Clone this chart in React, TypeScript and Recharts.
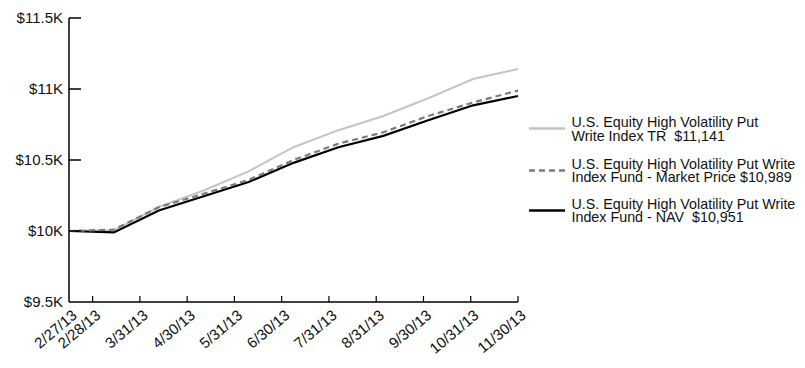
import React from 'react';
import { LineChart, Line, XAxis, YAxis, Legend } from 'recharts';

const DATES = ['2/27/13', '2/28/13', '3/31/13', '4/30/13', '5/31/13', '6/30/13', '7/31/13', '8/31/13', '9/30/13', '10/31/13', '11/30/13'];
const INDEX_TR = [10000, 10005, 10170, 10285, 10420, 10590, 10710, 10810, 10935, 11070, 11141];
const MARKET_PRICE = [10000, 10010, 10168, 10262, 10360, 10500, 10615, 10695, 10810, 10905, 10989];
const NAV = [10000, 9990, 10145, 10245, 10345, 10480, 10590, 10670, 10780, 10885, 10951];

const Y_TICKS = [9500, 10000, 10500, 11000, 11500];
const Y_TICK_LABELS = ['$9.5K', '$10K', '$10.5K', '$11K', '$11.5K'];
// month-end positions of the date labels (2/27 sits half a step before 2/28)
const X_TICKS = [0.5, 1, 2, 3, 4, 5, 6, 7, 8, 9, 10];
const X_TICK_LABELS = DATES;

const LEGEND_LINES = [
  ['U.S. Equity High Volatility Put', 'Write Index TR  $11,141'],
  ['U.S. Equity High Volatility Put Write', 'Index Fund - Market Price $10,989'],
  ['U.S. Equity High Volatility Put Write', 'Index Fund - NAV  $10,951'],
];

const data = DATES.map((d, i) => ({ date: d, index: INDEX_TR[i], market: MARKET_PRICE[i], nav: NAV[i] }));

const FONT = '"Liberation Sans", Arial, sans-serif';

const YTick = (props: any) => {
  const { x, y, payload } = props;
  const i = Y_TICKS.indexOf(payload.value);
  return (
    <g>
      {payload.value !== Y_TICKS[0] && (
        <line x1={x + 6} x2={x + 18} y1={y} y2={y} stroke="#000" strokeWidth={1.5} />
      )}
      <text x={x} y={y} dy={5.3} textAnchor="end" fontFamily={FONT} fontSize={15} fill="#111">
        {Y_TICK_LABELS[i]}
      </text>
    </g>
  );
};

const XTick = (props: any) => {
  const { x, y, payload } = props;
  const i = X_TICKS.indexOf(payload.value);
  const px = x + 9;
  const py = y + 15;
  return (
    <g>
      {i > 0 && <line x1={x} x2={x} y1={y} y2={y - 6} stroke="#000" strokeWidth={1.2} />}
      <text x={px} y={py} textAnchor="end" transform={`rotate(-40, ${px}, ${py})`} fontFamily={FONT} fontSize={15} fill="#111">
        {X_TICK_LABELS[i]}
      </text>
    </g>
  );
};

const LegendContent = () => {
  const tops = [116, 157.5, 197.5];
  const samples = [
    { stroke: '#c4c4c4', dash: undefined, width: 2.5 },
    { stroke: '#7a7a7a', dash: '6 4', width: 2.5 },
    { stroke: '#000', dash: undefined, width: 2.5 },
  ];
  return (
    <div style={{ position: 'relative', width: 805, height: 368 }}>
      {LEGEND_LINES.map((lines, k) => (
        <div key={k} style={{ position: 'absolute', left: 528, top: tops[k], display: 'flex', alignItems: 'flex-start' }}>
          <svg width={38} height={28} style={{ display: 'block' }}>
            <line x1={1} x2={37} y1={12.5} y2={12.5} stroke={samples[k].stroke} strokeWidth={samples[k].width} strokeDasharray={samples[k].dash} />
          </svg>
          <div style={{ marginLeft: 5.5, fontFamily: FONT, fontSize: 14.3, lineHeight: '13.7px', color: '#111', whiteSpace: 'pre' }}>
            {lines[0]}
            <br />
            {lines[1]}
          </div>
        </div>
      ))}
    </div>
  );
};

export default function App() {
  return (
    <div style={{ position: 'absolute', left: 0, top: 0, width: 805, height: 368, background: '#fff' }}>
      <LineChart width={805} height={368} data={data} margin={{ top: 18, right: 287, bottom: 6, left: 0 }}>
        <XAxis
          xAxisId="t"
          dataKey="noSuchKey"
          type="number"
          domain={[0.5, 10]}
          allowDataOverflow
          ticks={X_TICKS}
          interval={0}
          height={60}
          tickSize={0}
          tickMargin={0}
          tickLine={false}
          tick={<XTick />}
          axisLine={{ stroke: '#000', strokeWidth: 1.5 }}
        />
        <XAxis xAxisId="d" dataKey="date" type="category" hide height={0} />
        <YAxis
          type="number"
          domain={[9500, 11500]}
          ticks={Y_TICKS}
          interval={0}
          width={69}
          tickSize={0}
          tickMargin={6}
          tickLine={false}
          tick={<YTick />}
          axisLine={{ stroke: '#000', strokeWidth: 1.5 }}
        />
        <Line xAxisId="d" type="linear" dataKey="index" stroke="#c4c4c4" strokeWidth={2} dot={false} isAnimationActive={false} />
        <Line xAxisId="d" type="linear" dataKey="nav" stroke="#000" strokeWidth={2.2} dot={false} isAnimationActive={false} />
        <Line xAxisId="d" type="linear" dataKey="market" stroke="#7a7a7a" strokeWidth={2.2} strokeDasharray="6 4" dot={false} isAnimationActive={false} />
        <Legend
          layout="vertical"
          align="center"
          verticalAlign="middle"
          content={<LegendContent />}
          wrapperStyle={{ left: 0, top: 0, width: 805, height: 368, pointerEvents: 'none' }}
        />
      </LineChart>
    </div>
  );
}
